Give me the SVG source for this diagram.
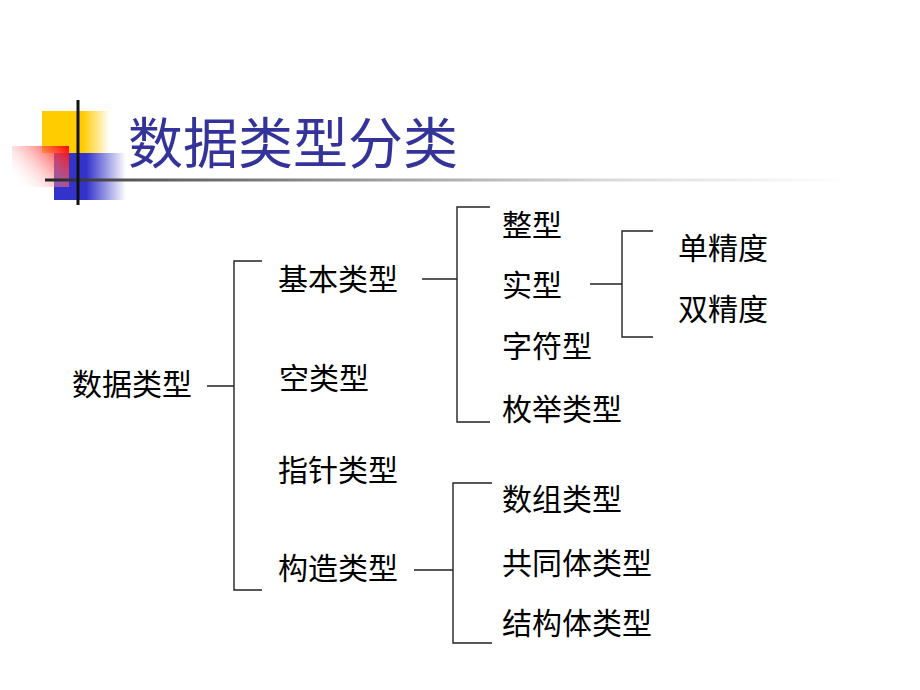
<svg xmlns="http://www.w3.org/2000/svg" width="920" height="690" viewBox="0 0 920 690">
<defs>
<linearGradient id="gYellow" x1="42" y1="0" x2="110" y2="0" gradientUnits="userSpaceOnUse">
<stop offset="0" stop-color="#FFCC00"/><stop offset="0.6" stop-color="#FFCC00"/><stop offset="1" stop-color="#FFCC00" stop-opacity="0"/>
</linearGradient>
<linearGradient id="gBlue" x1="54" y1="0" x2="126" y2="0" gradientUnits="userSpaceOnUse">
<stop offset="0" stop-color="#3333CC"/><stop offset="0.45" stop-color="#3333CC"/><stop offset="1" stop-color="#3333CC" stop-opacity="0"/>
</linearGradient>
<linearGradient id="gRed" x1="69" y1="146" x2="20" y2="190" gradientUnits="userSpaceOnUse">
<stop offset="0" stop-color="#FF0000"/><stop offset="1" stop-color="#FFFFFF" stop-opacity="0"/>
</linearGradient>
<linearGradient id="gRule" x1="45" y1="0" x2="850" y2="0" gradientUnits="userSpaceOnUse">
<stop offset="0" stop-color="#222"/><stop offset="0.1" stop-color="#555"/><stop offset="0.45" stop-color="#a6a6a6"/><stop offset="0.7" stop-color="#dadada"/><stop offset="1" stop-color="#fff"/>
</linearGradient>
<style>
.t{font-family:"Noto Sans CJK SC","Noto Sans",sans-serif;font-size:30px;fill:#000;dominant-baseline:central}
.title{font-family:"Noto Sans CJK SC","Noto Sans",sans-serif;font-size:55px;fill:#333399;dominant-baseline:central}
.ln{fill:none;stroke:#222;stroke-width:1.4}
</style>
</defs>
<rect width="920" height="690" fill="#fff"/>
<g id="logo">
<rect x="42" y="111" width="68" height="42" fill="url(#gYellow)"/>
<rect x="54" y="153" width="72" height="47" fill="url(#gBlue)"/>
<rect x="12" y="146" width="57" height="41" fill="url(#gRed)"/>
<rect x="45" y="178.5" width="805" height="3" fill="url(#gRule)"/>
<rect x="76.5" y="100" width="3" height="105" fill="#111"/>
</g>
<g id="title"><text class="title" x="128" y="139">数据类型分类</text></g>
<g id="connectors">
<path class="ln" d="M207,386H234M262,261H234V590H262"/>
<path class="ln" d="M422,279H457M490,207H457V422H490"/>
<path class="ln" d="M590,284H622M653,231H622V337H653"/>
<path class="ln" d="M414,570H453M492,483H453V643H492"/>
</g>
<g id="n-root"><text class="t" x="72" y="382">数据类型</text></g>
<g id="n-basic"><text class="t" x="278" y="277">基本类型</text></g>
<g id="n-void"><text class="t" x="279" y="376">空类型</text></g>
<g id="n-pointer"><text class="t" x="278" y="468">指针类型</text></g>
<g id="n-struct"><text class="t" x="278" y="566">构造类型</text></g>
<g id="n-int"><text class="t" x="502" y="223">整型</text></g>
<g id="n-real"><text class="t" x="502" y="283">实型</text></g>
<g id="n-char"><text class="t" x="502" y="344">字符型</text></g>
<g id="n-enum"><text class="t" x="502" y="407">枚举类型</text></g>
<g id="n-float"><text class="t" x="678" y="246">单精度</text></g>
<g id="n-double"><text class="t" x="678" y="307">双精度</text></g>
<g id="n-array"><text class="t" x="502" y="497">数组类型</text></g>
<g id="n-union"><text class="t" x="502" y="561">共同体类型</text></g>
<g id="n-structure"><text class="t" x="502" y="621">结构体类型</text></g>
</svg>
